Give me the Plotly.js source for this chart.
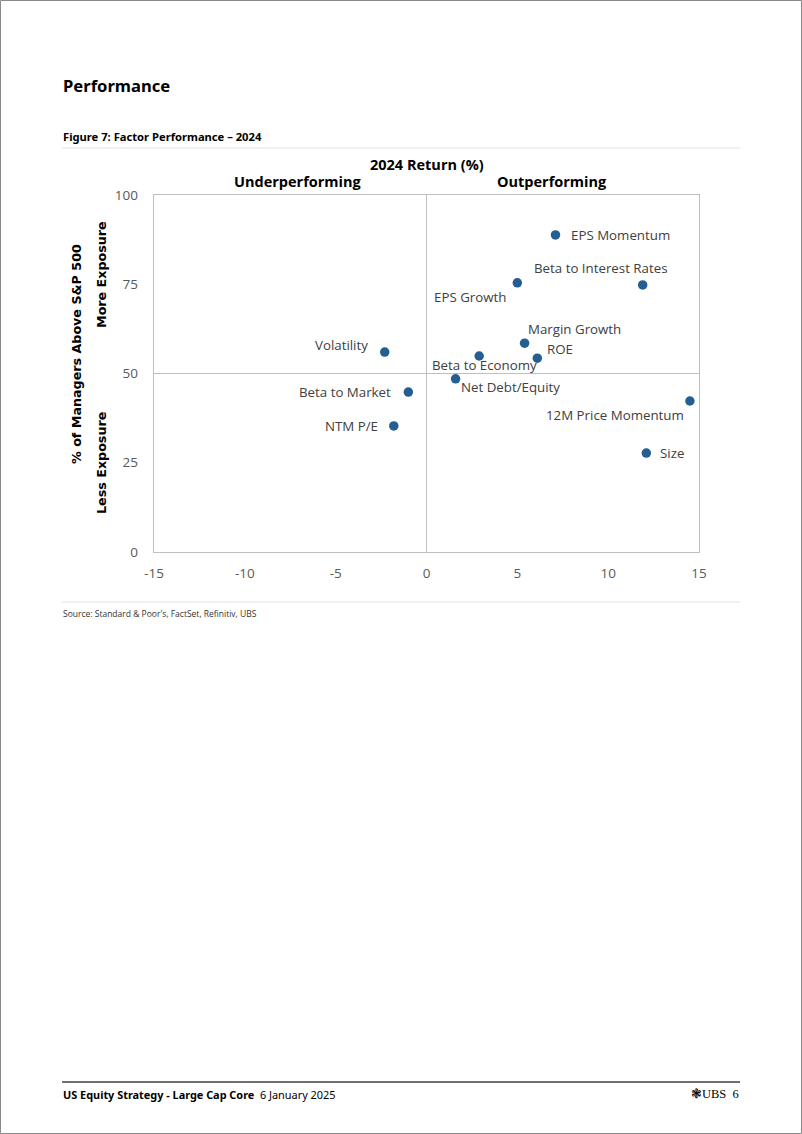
<!DOCTYPE html>
<html>
<head>
<meta charset="utf-8">
<script src="https://cdn.plot.ly/plotly-3.0.1.min.js"></script>
<style>
html,body{margin:0;padding:0;background:#fff;}
#chart{width:802px;height:1134px;}
</style>
</head>
<body>
<div id="chart"></div>
<script>
// ---- data ----
const factors = ["EPS Momentum","Beta to Interest Rates","EPS Growth","Margin Growth","ROE","Beta to Economy","Net Debt/Equity","Volatility","Beta to Market","NTM P/E","12M Price Momentum","Size"];
const return2024 = [7.1, 11.9, 5.0, 5.4, 6.1, 2.9, 1.6, -2.3, -1.0, -1.8, 14.5, 12.1];
const pctManagersAbove = [88.8, 74.8, 75.4, 58.5, 54.3, 54.9, 48.5, 56.0, 44.8, 35.3, 42.3, 27.7];
const xTicks = [-15,-10,-5,0,5,10,15];
const yTicks = [0,25,50,75,100];

// label placement (style only): anchor, x shift, y shift in px
const labelStyle = [
  ["left",14,0],["center",-42,17],["right",-9,-14],["center",50,14],["left",8,9],
  ["center",5,-9],["left",3,-8],["right",-15,7],["right",-15,0],["right",-14,0],
  ["right",-4,-14],["left",12,0]
];

// plot area in pixels
const L=154, R=699, T=195, B=552, W=802, H=1134;
const px = v => (v - L)/(R-L);
const py = v => (B - v)/(B-T);

const labelFont = {family:"Open Sans, sans-serif", size:13.3, color:"#404040"};
const annotations = factors.map((f,i)=>({
  x:return2024[i], y:pctManagersAbove[i], xref:"x", yref:"y", text:f, showarrow:false,
  xanchor:labelStyle[i][0], yanchor:"middle", xshift:labelStyle[i][1], yshift:labelStyle[i][2],
  font:labelFont
}));

function pageText(text, x, y, opts){
  return Object.assign({text:text, x:px(x), y:py(y), xref:"paper", yref:"paper", showarrow:false,
    xanchor:"left", yanchor:"middle"}, opts||{});
}
const boldTitle = {family:"Open Sans, sans-serif", size:14.5, color:"#000", weight:"bold"};
const yTitleFont = {family:"DejaVu Sans, sans-serif", size:12.7, color:"#000", weight:"bold"};
annotations.push(
  pageText("Performance", 61, 86, {font:{family:"Noto Sans, sans-serif", size:16.6, color:"#000", weight:"bold"}}),
  pageText("Figure 7: Factor Performance – 2024", 61, 137, {font:{family:"Noto Sans, sans-serif", size:11.2, color:"#000", weight:"bold"}}),
  pageText("2024 Return (%)", 427, 164, {xanchor:"center", font:boldTitle}),
  pageText("Underperforming", 298, 182, {xanchor:"center", font:boldTitle}),
  pageText("Outperforming", 552, 182, {xanchor:"center", font:boldTitle}),
  pageText("% of Managers Above S&P 500", 76, 354, {xanchor:"center", textangle:-90, font:yTitleFont}),
  pageText("More Exposure", 101, 275, {xanchor:"center", textangle:-90, font:yTitleFont}),
  pageText("Less Exposure", 101, 463, {xanchor:"center", textangle:-90, font:yTitleFont}),
  pageText("Source: Standard & Poor's, FactSet, Refinitiv, UBS", 61, 613, {font:{family:"Open Sans, sans-serif", size:8.5, color:"#333"}}),
  pageText("<b>US Equity Strategy - Large Cap Core</b>  6 January 2025", 61, 1094, {font:{family:"Noto Sans, sans-serif", size:10.9, color:"#000"}}),
  pageText("\u2743UBS  6", 741, 1094, {xanchor:"right", font:{family:"Liberation Serif, serif", size:12.5, color:"#000"}})
);

const shapes = [
  {type:"line", xref:"paper", yref:"paper", x0:px(62), x1:px(740), y0:py(148), y1:py(148), line:{color:"#e3e3e3", width:1}},
  {type:"line", xref:"paper", yref:"paper", x0:px(62), x1:px(740), y0:py(602), y1:py(602), line:{color:"#e3e3e3", width:1}},
  {type:"line", xref:"paper", yref:"paper", x0:px(62), x1:px(740), y0:py(1082), y1:py(1082), line:{color:"#404040", width:1.3}},
  {type:"rect", xref:"paper", yref:"paper", x0:px(0.5), x1:px(801.5), y0:py(0.5), y1:py(1133.5), line:{color:"#8a8a8a", width:1}},
  {type:"line", xref:"paper", yref:"y", x0:0, x1:1, y0:yTicks[2], y1:yTicks[2], line:{color:"#bfbfbf", width:1}, layer:"below"}
];

const trace = {
  type:"scatter", mode:"markers", x:return2024, y:pctManagersAbove, text:factors,
  marker:{color:"#255e91", size:9.5}, hoverinfo:"text", cliponaxis:false
};

const tickFont = {family:"Open Sans, sans-serif", size:13.5, color:"#595959"};
const layout = {
  width:W, height:H, paper_bgcolor:"#fff", plot_bgcolor:"#fff", showlegend:false,
  margin:{l:L, r:W-R, t:T, b:H-B, pad:0},
  xaxis:{range:[xTicks[0], xTicks[xTicks.length-1]], tickvals:xTicks, ticktext:xTicks.map(String), showgrid:false,
    zeroline:true, zerolinecolor:"#bfbfbf", zerolinewidth:1, showline:true, mirror:true, linecolor:"#bfbfbf", linewidth:1.3,
    ticks:"", ticklabelstandoff:8, tickfont:tickFont, fixedrange:true},
  yaxis:{range:[yTicks[0], yTicks[yTicks.length-1]], tickvals:yTicks, ticktext:yTicks.map(String), showgrid:false,
    zeroline:false, showline:true, mirror:true, linecolor:"#bfbfbf", linewidth:1.3,
    ticks:"", ticklabelstandoff:12, tickfont:tickFont, fixedrange:true},
  annotations:annotations, shapes:shapes
};
Plotly.newPlot("chart", [trace], layout, {displayModeBar:false, staticPlot:true});
</script>
</body>
</html>
